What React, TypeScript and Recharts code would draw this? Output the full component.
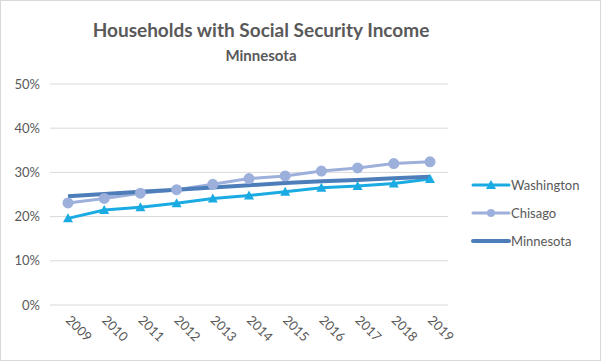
import React from "react";
import { LineChart, Line, XAxis, YAxis, CartesianGrid } from "recharts";

const years = ["2009", "2010", "2011", "2012", "2013", "2014", "2015", "2016", "2017", "2018", "2019"];
const washington = [0.196, 0.215, 0.221, 0.230, 0.241, 0.248, 0.256, 0.265, 0.269, 0.275, 0.285];
const chisago = [0.231, 0.241, 0.253, 0.261, 0.273, 0.286, 0.292, 0.303, 0.310, 0.320, 0.324];
const minnesota = [0.246, 0.251, 0.256, 0.261, 0.266, 0.271, 0.276, 0.280, 0.283, 0.287, 0.290];
const yTicks = [0, 0.1, 0.2, 0.3, 0.4, 0.5];

const seriesNames = ["Washington", "Chisago", "Minnesota"];
const colors = ["#1AABE3", "#9CB0DB", "#4E7EBA"];

const data = years.map((y, i) => ({
  year: y,
  Washington: washington[i],
  Chisago: chisago[i],
  Minnesota: minnesota[i],
}));

const FONT = "Lato, 'Noto Sans', sans-serif";
const TXT = "#595959";

const Triangle = (props: any) => {
  const { cx, cy } = props;
  if (cx == null || cy == null) return null;
  return <path d={`M${cx},${cy - 5} L${cx + 5},${cy + 4} L${cx - 5},${cy + 4} Z`} fill={colors[0]} />;
};

const XTick = (props: any) => {
  const { x, y, payload } = props;
  return (
    <text
      transform={`translate(${x - 3},${y + 8}) rotate(45)`}
      textAnchor="start"
      fontSize={13}
      fill={TXT}
      fontFamily={FONT}
    >
      {payload.value}
    </text>
  );
};

export default function App() {
  return (
    <div
      style={{
        position: "absolute",
        left: 0,
        top: 0,
        width: 601,
        height: 361,
        boxSizing: "border-box",
        border: "1px solid #d9d9d9",
        background: "#fff",
        fontFamily: FONT,
      }}
    >
      <div
        style={{
          position: "absolute",
          left: 0,
          width: 520,
          top: 17,
          textAlign: "center",
          fontSize: 19,
          fontWeight: 700,
          color: TXT,
        }}
      >
        Households with Social Security Income
      </div>
      <div
        style={{
          position: "absolute",
          left: 0,
          width: 520,
          top: 45,
          textAlign: "center",
          fontSize: 15,
          fontWeight: 700,
          color: TXT,
        }}
      >
        Minnesota
      </div>
      <div style={{ position: "absolute", left: -1, top: -1 }}>
        <LineChart
          width={601}
          height={361}
          data={data}
          margin={{ top: 84, right: 153, bottom: 16, left: 0 }}
        >
          <CartesianGrid vertical={false} stroke="#d9d9d9" />
          <XAxis
            dataKey="year"
            axisLine={false}
            tickLine={false}
            height={40}
            interval={0}
            padding={{ left: 18, right: 18 }}
            tick={<XTick />}
          />
          <YAxis
            domain={[0, 0.5]}
            ticks={yTicks}
            width={50}
            axisLine={false}
            tickLine={false}
            tickMargin={4}
            tickFormatter={(v: number) => `${Math.round(v * 100)}%`}
            tick={{ fontSize: 13, fill: TXT, fontFamily: FONT }}
          />
          <Line
            dataKey="Washington"
            stroke={colors[0]}
            strokeWidth={3}
            dot={<Triangle />}
            isAnimationActive={false}
          />
          <Line
            dataKey="Chisago"
            stroke={colors[1]}
            strokeWidth={3}
            dot={{ r: 4, fill: colors[1], stroke: colors[1] }}
            isAnimationActive={false}
          />
          <Line
            dataKey="Minnesota"
            stroke={colors[2]}
            strokeWidth={4}
            dot={false}
            isAnimationActive={false}
          />
        </LineChart>
      </div>
      <svg style={{ position: "absolute", left: 0, top: 0 }} width={601} height={361}>
        {seriesNames.map((n, i) => {
          const y = 184 + i * 28;
          return (
            <g key={n}>
              <line x1={472} x2={508} y1={y} y2={y} stroke={colors[i]} strokeWidth={i === 2 ? 4 : 3} strokeLinecap="round" />
              {i === 0 && <path d={`M490,${y - 5} L495,${y + 4} L485,${y + 4} Z`} fill={colors[0]} />}
              {i === 1 && <circle cx={490} cy={y} r={4} fill={colors[1]} />}
              <text x={510} y={y + 5} fontSize={13} fill={TXT} fontFamily={FONT}>
                {n}
              </text>
            </g>
          );
        })}
      </svg>
    </div>
  );
}
